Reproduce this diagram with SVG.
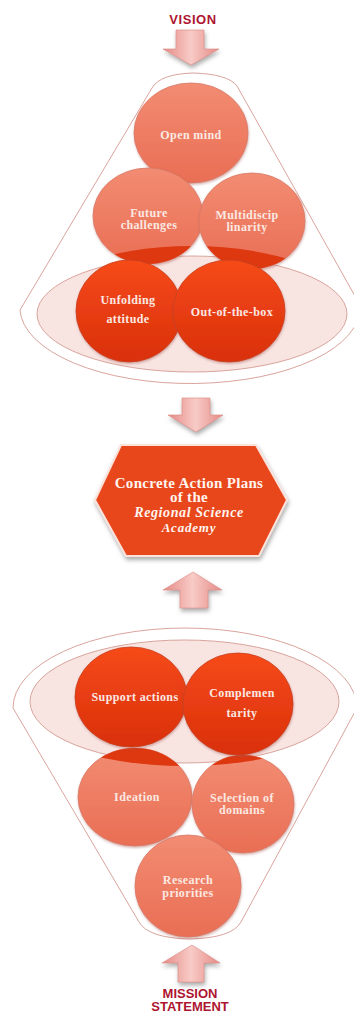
<svg xmlns="http://www.w3.org/2000/svg" width="354" height="1013" viewBox="0 0 354 1013">
<defs>
<linearGradient id="gLight" x1="0" y1="0" x2="0" y2="1">
<stop offset="0" stop-color="#f28c72"/>
<stop offset="1" stop-color="#e96e54"/>
</linearGradient>
<linearGradient id="gDark" x1="0" y1="0" x2="0" y2="1">
<stop offset="0" stop-color="#f64a18"/>
<stop offset="1" stop-color="#d9300c"/>
</linearGradient>
<linearGradient id="gArrow" x1="0" y1="0" x2="1" y2="0">
<stop offset="0" stop-color="#e58a86"/>
<stop offset="0.5" stop-color="#f8cbc6"/>
<stop offset="1" stop-color="#e58a86"/>
</linearGradient>
<clipPath id="clipTop"><ellipse cx="192" cy="312" rx="160" ry="66"/></clipPath>
<clipPath id="clipBot"><ellipse cx="185" cy="700" rx="170" ry="66"/></clipPath>
<filter id="shadow" x="-20%" y="-20%" width="140%" height="150%">
<feDropShadow dx="1" dy="3" stdDeviation="2" flood-color="#777" flood-opacity="0.6"/>
</filter>
<filter id="soft" x="-10%" y="-10%" width="120%" height="130%">
<feDropShadow dx="0.5" dy="1.5" stdDeviation="1" flood-color="#a05048" flood-opacity="0.45"/>
</filter>
</defs>
<style>
.funnel{fill:none;stroke:#d9a49c;stroke-width:1}
.inner{fill:#f6dcd8;fill-opacity:0.75;stroke:#d9a49c;stroke-width:1}
.light{fill:url(#gLight);stroke:#d87a68;stroke-width:0.8;filter:url(#soft)}
.dark{fill:url(#gDark);stroke:#c8401e;stroke-width:0.8;filter:url(#soft)}
.darkcap{fill:#dd3810}
.lbl{font-family:"Liberation Serif","Times New Roman",serif;font-weight:bold;font-size:12px;fill:#fbe8e2;text-anchor:middle;letter-spacing:0.4px}
.head{font-family:"Liberation Sans",Arial,sans-serif;font-weight:bold;font-size:13px;fill:#ad1530;text-anchor:middle}
.hex{font-family:"Liberation Serif","Times New Roman",serif;font-weight:bold;fill:#fff4ee;text-anchor:middle}
.arrow{fill:url(#gArrow);stroke:#dc8a84;stroke-width:0.6;filter:url(#shadow)}
</style>

<g id="vision-label"><text class="head" x="193" y="24" letter-spacing="0.6">VISION</text></g>

<g id="funnel-top">
<path class="funnel" d="M20,310 L152,88 Q160,74 193,73 Q228,74 237,86 L360,305 A170 76 0 0 1 20,310 Z"/>
<ellipse class="inner" cx="192" cy="314" rx="155" ry="58"/>
</g>

<g id="node-open-mind"><ellipse class="light" cx="191" cy="133" rx="57" ry="50"/><text class="lbl" x="191" y="139">Open mind</text></g>
<g id="node-future-challenges">
<ellipse class="light" cx="148" cy="216" rx="55" ry="48"/>
<ellipse class="darkcap" cx="148" cy="216" rx="55" ry="48" clip-path="url(#clipTop)"/>
<text class="lbl" x="149" y="217">Future</text><text class="lbl" x="149" y="229">challenges</text></g>
<g id="node-multidisciplinarity">
<ellipse class="light" cx="252" cy="221" rx="53" ry="48"/>
<ellipse class="darkcap" cx="252" cy="221" rx="53" ry="48" clip-path="url(#clipTop)"/>
<text class="lbl" x="247" y="219">Multidiscip</text><text class="lbl" x="247" y="231">linarity</text></g>
<g id="node-unfolding-attitude"><ellipse class="dark" cx="129" cy="311" rx="53" ry="51"/><text class="lbl" x="128" y="304">Unfolding</text><text class="lbl" x="128" y="323">attitude</text></g>
<g id="node-out-of-the-box"><ellipse class="dark" cx="229" cy="311" rx="56" ry="51"/><text class="lbl" x="232" y="316">Out-of-the-box</text></g>

<g id="connectors">
<path class="arrow" d="M176,30 L204,30 L204,49 L219,49 L191,65 L163,49 L176,49 Z"/>
<path class="arrow" d="M182,398 L210,398 L210,415 L223,415 L196,432 L168,415 L182,415 Z"/>
<path class="arrow" d="M193,572 L222,590 L208,590 L208,608 L180,608 L180,590 L163,590 Z"/>
<path class="arrow" d="M192,945 L220,963 L204,963 L204,982 L178,982 L178,963 L162,963 Z"/>
</g>

<g id="node-action-plans">
<polygon points="95,500 121,445 256,445 287,500 259,556 126,556" fill="#e8461e" stroke="#fbe3dc" stroke-width="2" filter="url(#shadow)"/>
<text class="hex" x="189" y="488" font-size="15" letter-spacing="0.3">Concrete Action Plans</text>
<text class="hex" x="189" y="502" font-size="15" letter-spacing="0.3">of the</text>
<text class="hex" x="189" y="517" font-size="14" font-style="italic" letter-spacing="0.6">Regional Science</text>
<text class="hex" x="189" y="532" font-size="13" font-style="italic" letter-spacing="0.8">Academy</text>
</g>

<g id="funnel-bottom">
<path class="funnel" d="M13,708 A172 80 0 0 1 357,708 L241,922 Q232,938 190,939 Q148,938 139,922 Z"/>
<ellipse class="inner" cx="184.5" cy="701.5" rx="154.5" ry="61.5"/>
</g>

<g id="node-ideation">
<ellipse class="light" cx="135" cy="797" rx="57" ry="49"/>
<ellipse class="darkcap" cx="135" cy="797" rx="57" ry="49" clip-path="url(#clipBot)"/>
<text class="lbl" x="137" y="801">Ideation</text></g>
<g id="node-selection-of-domains">
<ellipse class="light" cx="243" cy="804" rx="51" ry="49"/>
<ellipse class="darkcap" cx="243" cy="804" rx="51" ry="49" clip-path="url(#clipBot)"/>
<text class="lbl" x="242" y="802">Selection of</text><text class="lbl" x="242" y="814">domains</text></g>
<g id="node-support-actions"><ellipse class="dark" cx="131" cy="697" rx="56" ry="50"/><text class="lbl" x="135" y="701">Support actions</text></g>
<g id="node-complementarity"><ellipse class="dark" cx="238" cy="704" rx="55" ry="51"/><text class="lbl" x="242" y="697">Complemen</text><text class="lbl" x="242" y="717">tarity</text></g>
<g id="node-research-priorities"><ellipse class="light" cx="188" cy="886" rx="53" ry="51"/><text class="lbl" x="188" y="884">Research</text><text class="lbl" x="188" y="897">priorities</text></g>

<g id="mission-label"><text class="head" x="190" y="998">MISSION</text><text class="head" x="190" y="1011">STATEMENT</text></g>
</svg>
